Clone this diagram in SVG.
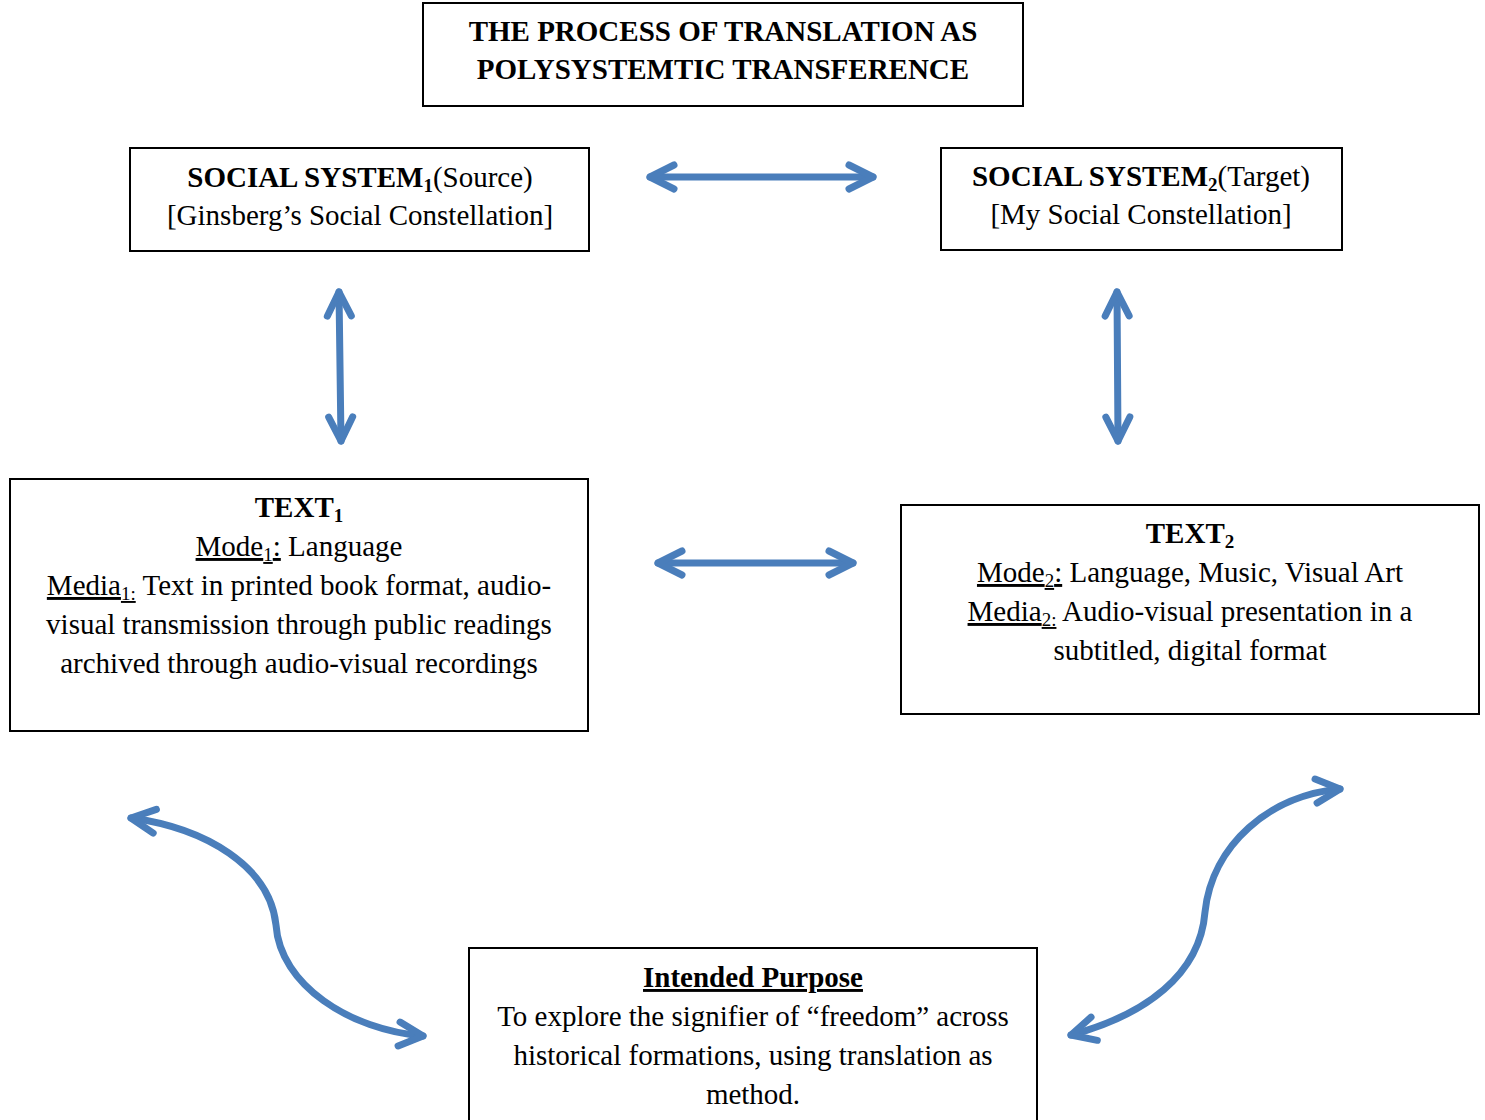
<svg xmlns="http://www.w3.org/2000/svg" width="1485" height="1120" viewBox="0 0 1485 1120">
<style>
  .box { fill: #ffffff; stroke: #000000; stroke-width: 2; }
  .t { font-family: "Liberation Serif", "Times New Roman", serif; font-size: 29px; fill: #000000; text-anchor: middle; }
  .b { font-weight: bold; }
  .u { text-decoration: underline; }
  .conn { fill: none; stroke: #4a7ebb; stroke-width: 7; stroke-linecap: round; marker-start: url(#chev); marker-end: url(#chev); }
</style>
<defs>
  <marker id="chev" markerUnits="userSpaceOnUse" orient="auto-start-reverse" refX="0" refY="0" markerWidth="60" markerHeight="60" overflow="visible">
    <path d="M-24,-12 L0,0 L-24,12" fill="none" stroke="#4a7ebb" stroke-width="7" stroke-linecap="round" stroke-linejoin="round"/>
  </marker>
</defs>
<rect width="1485" height="1120" fill="#ffffff"/>

<g id="title">
  <rect class="box" x="423" y="3" width="600" height="103"/>
  <text class="t b" x="723" y="41">THE PROCESS OF TRANSLATION AS</text>
  <text class="t b" x="723" y="79">POLYSYSTEMTIC TRANSFERENCE</text>
</g>

<g id="social-system-1">
  <rect class="box" x="130" y="148" width="459" height="103"/>
  <text class="t" x="360" y="187"><tspan class="b">SOCIAL SYSTEM</tspan><tspan class="b" font-size="19" dy="5">1</tspan><tspan dy="-5">(Source)</tspan></text>
  <text class="t" x="360" y="225">[Ginsberg’s Social Constellation]</text>
</g>

<g id="social-system-2">
  <rect class="box" x="941" y="148" width="401" height="102"/>
  <text class="t" x="1141" y="186"><tspan class="b">SOCIAL SYSTEM</tspan><tspan class="b" font-size="19" dy="5">2</tspan><tspan dy="-5">(Target)</tspan></text>
  <text class="t" x="1141" y="224">[My Social Constellation]</text>
</g>

<g id="text-1">
  <rect class="box" x="10" y="479" width="578" height="252"/>
  <text class="t" x="299" y="517"><tspan class="b">TEXT</tspan><tspan class="b" font-size="19" dy="5">1</tspan></text>
  <text class="t" x="299" y="556"><tspan class="u">Mode</tspan><tspan class="u" font-size="19" dy="5">1</tspan><tspan class="u" dy="-5">:</tspan> Language</text>
  <text class="t" x="299" y="595"><tspan class="u">Media</tspan><tspan class="u" font-size="19" dy="5">1:</tspan><tspan dy="-5"> Text in printed book format, audio-</tspan></text>
  <text class="t" x="299" y="634">visual transmission through public readings</text>
  <text class="t" x="299" y="673">archived through audio-visual recordings</text>
</g>

<g id="text-2">
  <rect class="box" x="901" y="505" width="578" height="209"/>
  <text class="t" x="1190" y="543"><tspan class="b">TEXT</tspan><tspan class="b" font-size="19" dy="5">2</tspan></text>
  <text class="t" x="1190" y="582"><tspan class="u">Mode</tspan><tspan class="u" font-size="19" dy="5">2</tspan><tspan class="u" dy="-5">:</tspan> Language, Music, Visual Art</text>
  <text class="t" x="1190" y="621"><tspan class="u">Media</tspan><tspan class="u" font-size="19" dy="5">2:</tspan><tspan dy="-5"> Audio-visual presentation in a</tspan></text>
  <text class="t" x="1190" y="660">subtitled, digital format</text>
</g>

<g id="intended-purpose">
  <rect class="box" x="469" y="948" width="568" height="180"/>
  <text class="t b u" x="753" y="987">Intended Purpose</text>
  <text class="t" x="753" y="1026">To explore the signifier of “freedom” across</text>
  <text class="t" x="753" y="1065">historical formations, using translation as</text>
  <text class="t" x="753" y="1104">method.</text>
</g>

<g id="connectors">
  <path class="conn" d="M650,177 L873,177"/>
  <path class="conn" d="M339,292 L341,441"/>
  <path class="conn" d="M1117,292 L1118,441"/>
  <path class="conn" d="M658,563 L853,563"/>
  <path class="conn" d="M131,818 C205,828 270,866 276,925 C280,985 350,1030 423,1036"/>
  <path class="conn" d="M1071,1035 C1145,1015 1200,975 1205,912 C1212,845 1270,795 1340,789"/>
</g>
</svg>
